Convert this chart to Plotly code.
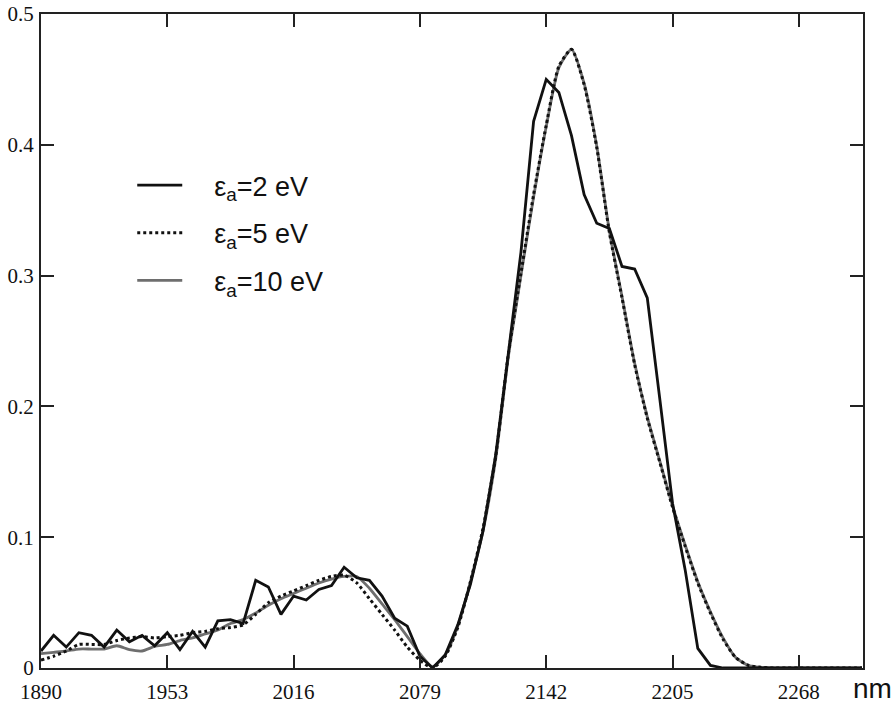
import numpy as np
import plotly.graph_objects as go

# Wavelength grid (nm): 6.3 nm steps from 1890 to ~2300
wavelength = np.round(1890 + 6.3 * np.arange(66), 1)

# Spectra for three activation energies
eps_2 = [0.013, 0.025, 0.016, 0.027, 0.025, 0.016, 0.029, 0.020, 0.025, 0.017,
         0.027, 0.014, 0.028, 0.016, 0.036, 0.037, 0.034, 0.067, 0.062, 0.041,
         0.055, 0.052, 0.060, 0.063, 0.077, 0.069, 0.067, 0.055, 0.038, 0.032,
         0.009, 0.000, 0.010, 0.033, 0.064, 0.105, 0.163, 0.240, 0.318, 0.418,
         0.450, 0.440, 0.407, 0.362, 0.340, 0.336, 0.307, 0.305, 0.283, 0.205,
         0.126, 0.075, 0.015, 0.002, 0.000, 0, 0, 0, 0, 0, 0, 0, 0, 0, 0, 0]

eps_5 = [0.006, 0.009, 0.013, 0.018, 0.018, 0.018, 0.021, 0.023, 0.024, 0.023,
         0.024, 0.025, 0.027, 0.028, 0.030, 0.031, 0.033, 0.041, 0.050, 0.055,
         0.059, 0.063, 0.067, 0.070, 0.071, 0.065, 0.053, 0.041, 0.029, 0.016,
         0.006, 0.000, 0.009, 0.031, 0.066, 0.107, 0.162, 0.240, 0.302, 0.362,
         0.415, 0.460, 0.473, 0.446, 0.398, 0.333, 0.283, 0.232, 0.191, 0.157,
         0.123, 0.093, 0.065, 0.042, 0.022, 0.008, 0.002, 0.0005, 0, 0, 0, 0, 0, 0, 0, 0]

eps_10 = [0.011, 0.012, 0.013, 0.0145, 0.0145, 0.0145, 0.017, 0.014, 0.013, 0.0165,
          0.018, 0.021, 0.023, 0.026, 0.029, 0.034, 0.037, 0.042, 0.048, 0.053,
          0.057, 0.061, 0.065, 0.068, 0.070, 0.070, 0.061, 0.049, 0.037, 0.024,
          0.011, 0.001, 0.010, 0.032, 0.066, 0.105, 0.160, 0.238, 0.300, 0.360,
          0.414, 0.459, 0.473, 0.447, 0.399, 0.334, 0.284, 0.233, 0.192, 0.158,
          0.124, 0.094, 0.066, 0.043, 0.023, 0.008, 0.002, 0.0005, 0, 0, 0, 0, 0, 0, 0, 0]

x_ticks = [1890, 1953, 2016, 2079, 2142, 2205, 2268]
y_ticks = [0, 0.1, 0.2, 0.3, 0.4, 0.5]
y_tick_text = ["0", "0.1", "0.2", "0.3", "0.4", "0.5"]

GAP = "\u2002\u2002"  # space between legend sample and its label

fig = go.Figure()

fig.add_trace(go.Scatter(
    x=wavelength, y=eps_10, mode="lines", name=GAP + "ε<sub>a</sub>=10 eV",
    line=dict(color="#6e6e6e", width=2.8, shape="spline", smoothing=0.6),
    legendgroup="c", legendrank=3,
))
fig.add_trace(go.Scatter(
    x=wavelength, y=eps_5, mode="lines", name=GAP + "ε<sub>a</sub>=5 eV",
    line=dict(color="#111111", width=3, dash="dot", shape="spline", smoothing=0.6),
    legendgroup="b", legendrank=2,
))
fig.add_trace(go.Scatter(
    x=wavelength, y=eps_2, mode="lines", name=GAP + "ε<sub>a</sub>=2 eV",
    line=dict(color="#111111", width=2.8),
    legendgroup="a", legendrank=1,
))

axis_common = dict(
    showline=True, linecolor="#222222", linewidth=2, mirror="ticks",
    ticks="inside", ticklen=13, tickwidth=2, tickcolor="#222222",
    showgrid=False, zeroline=False, automargin=False,
    tickfont=dict(family="Liberation Serif, Times New Roman, serif", size=21, color="#111111"),
)

fig.update_xaxes(range=[1890, 2300], tickmode="array", tickvals=x_ticks,
                 ticklabelstandoff=4, **axis_common)
fig.update_yaxes(range=[0, 0.5], tickmode="array", tickvals=y_ticks,
                 ticktext=y_tick_text, ticklabelstandoff=1, **axis_common)

fig.add_annotation(text="nm", xref="paper", yref="paper", x=1.012, y=-0.032,
                   xanchor="center", yanchor="middle", showarrow=False,
                   font=dict(family="Liberation Sans", size=28, color="#111111"))

fig.update_layout(
    width=895, height=703,
    margin=dict(l=41, r=32, t=14, b=35),
    paper_bgcolor="white", plot_bgcolor="white",
    showlegend=True,
    legend=dict(
        x=0.111, y=0.775, xanchor="left", yanchor="top",
        bgcolor="rgba(0,0,0,0)", traceorder="grouped", tracegroupgap=9.5,
        itemwidth=45,
        font=dict(family="Liberation Sans", size=27, color="#111111"),
    ),
)

fig.write_html("out.html")
